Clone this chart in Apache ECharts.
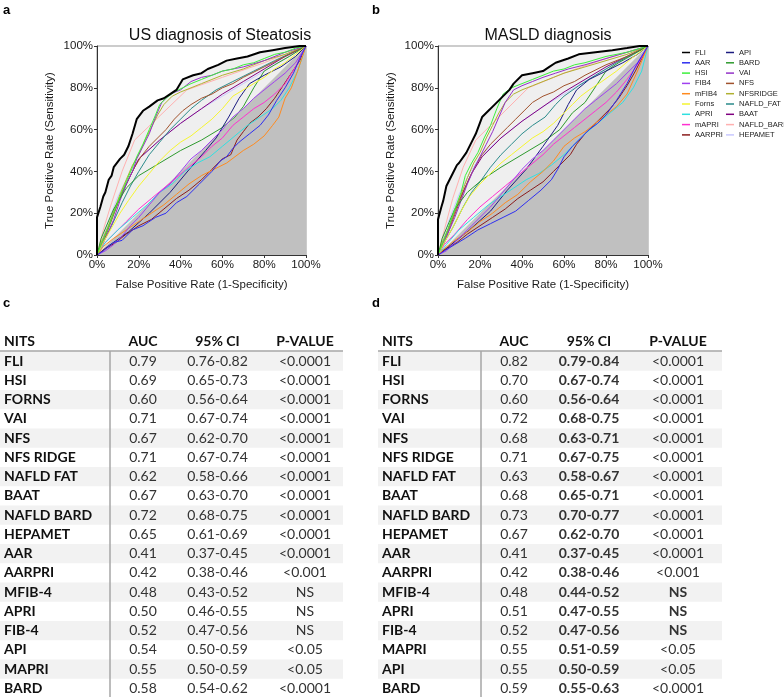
<!DOCTYPE html>
<html>
<head>
<meta charset="utf-8">
<script src="https://cdn.jsdelivr.net/npm/echarts@6/dist/echarts.min.js"></script>
<style>
  html, body { margin: 0; padding: 0; background: #fff; }
  #main { width: 784px; height: 697px; }
</style>
</head>
<body>
<div id="main"></div>
<script>
// ---- ROC curves, panel a (US diagnosis of Steatosis), [FPR %, TPR %]
const fliA = [[0,0],[0,18],[1.6,23],[3,28],[4,30],[5.6,36],[7,38],[8,42],[11,46],[13,48],[15,52],[17,58],[19,65],[22,69],[25,71],[29,74],[32,75],[35,77],[38,79],[41,84],[46,86],[50,87],[53,89],[58,91],[62,93],[67,94],[72,95],[78,97],[84,98],[90,99],[97,100],[100,100]];
const aarA = [[0,0],[3,2],[8,6],[12,7],[17,12],[22,14],[28,18],[33,20],[38,25],[43,28],[49,34],[55,40],[59,45],[62,47],[65,51],[68,54],[73,58],[78,62],[82,67],[86,74],[90,80],[94,87],[97,94],[100,100]];
const hsiA = [[0,0],[2,5],[5,12],[8,20],[11,28],[14,35],[17,42],[19,47],[22,53],[25,60],[28,67],[30,72],[33,75],[37,78],[41,80],[45,82],[50,84],[55,86],[60,88],[65,89],[70,91],[75,92],[80,94],[85,96],[90,97],[95,99],[100,100]];
const fib4A = [[0,0],[4,2],[8,5],[12,9],[16,14],[20,18],[25,24],[30,30],[35,34],[40,40],[45,46],[50,50],[55,55],[60,60],[65,66],[70,70],[75,75],[80,79],[85,83],[90,87],[95,92],[100,100]];
const mfib4A = [[0,0],[3,4],[8,8],[14,12],[20,16],[26,20],[32,24],[38,29],[44,34],[50,38],[56,41],[62,44],[66,47],[70,50],[75,53],[80,57],[84,62],[87,66],[90,75],[93,80],[96,88],[100,100]];
const fornsA = [[0,0],[3,6],[7,13],[11,20],[15,26],[20,33],[25,39],[30,45],[35,50],[40,54],[45,57],[50,61],[55,65],[60,70],[65,76],[70,79],[75,82],[80,85],[85,89],[90,92],[95,96],[100,100]];
const apriA = [[0,0],[4,6],[10,12],[17,18],[24,24],[30,30],[36,34],[42,40],[48,44],[54,47],[60,52],[66,57],[72,62],[78,66],[84,70],[88,74],[92,80],[96,88],[100,100]];
const mapriA = [[0,0],[3,5],[8,10],[14,16],[20,22],[26,27],[32,32],[38,37],[44,42],[50,47],[55,52],[60,56],[65,62],[70,66],[75,70],[80,73],[85,77],[90,82],[95,90],[100,100]];
const aarpriA = [[0,0],[4,3],[9,6],[14,10],[20,14],[26,17],[32,22],[38,27],[44,31],[50,36],[55,41],[60,46],[64,48],[67,55],[70,59],[73,63],[77,66],[81,70],[85,75],[89,81],[93,87],[97,93],[100,100]];
const apiA = [[0,0],[5,4],[15,11],[25,20],[35,30],[45,42],[52,50],[57,56],[63,66],[68,75],[73,82],[80,86],[88,90],[95,95],[100,100]];
const bardA = [[0,0],[2,8],[8,22],[14,32],[20,38],[30,44],[40,50],[50,55],[60,61],[66,66],[70,71],[75,80],[80,88],[85,91],[92,95],[100,100]];
const vaiA = [[0,0],[2,4],[5,10],[8,17],[11,26],[14,34],[17,40],[19,46],[22,52],[25,58],[28,66],[31,73],[35,77],[40,79],[45,83],[50,85],[55,86],[60,88],[70,90],[80,93],[90,97],[100,100]];
const nfsA = [[0,0],[3,6],[6,14],[9,22],[12,30],[15,36],[18,42],[21,47],[25,52],[29,56],[33,60],[37,65],[41,69],[45,72],[50,75],[55,77],[60,80],[65,82],[70,85],[80,90],[90,95],[100,100]];
const nfsRidgeA = [[0,0],[2,6],[5,13],[8,21],[11,29],[14,36],[17,43],[20,48],[23,55],[26,61],[29,67],[32,72],[36,76],[40,78],[45,80],[50,82],[55,84],[60,86],[70,89],[80,93],[90,96],[100,100]];
const nafldFatA = [[0,0],[3,6],[7,14],[12,25],[16,33],[20,40],[25,48],[30,54],[35,60],[40,65],[45,70],[50,74],[57,79],[65,83],[75,88],[85,93],[100,100]];
const baatA = [[0,0],[4,10],[10,25],[16,38],[20,46],[30,55],[40,63],[50,70],[60,77],[70,83],[80,89],[90,95],[100,100]];
const nafldBardA = [[0,0],[3,12],[7,25],[12,40],[18,55],[43,79],[60,85],[80,92],[100,100]];
const hepametA = [[0,0],[5,15],[10,28],[15,38],[20,46],[30,55],[40,63],[50,70],[60,76],[70,82],[80,88],[90,94],[100,100]];

// ---- ROC curves, panel b (MASLD diagnosis)
const fliB = [[0,0],[0,17],[1.6,23],[2.5,26],[4,33],[5.5,36],[7,39],[9,43],[10,44],[13.5,49],[16,54],[18,58],[21,66],[24,69],[26,71],[29,74],[31,76],[34,79],[36,82],[40,86],[45,87],[50,88],[53,90],[56,92],[62,94],[67,96],[75,97],[83,98],[90,99],[96,100],[100,100]];
const aarB = [[0,0],[3,2],[8,5],[13,8],[19,12],[25,15],[31,18],[37,21],[43,26],[49,31],[54,36],[57,41],[60,47],[64,52],[68,56],[72,60],[76,63],[80,67],[85,74],[90,82],[94,90],[97,95],[100,100]];
const hsiB = [[0,0],[2,5],[5,13],[8,22],[11,30],[13,38],[16,44],[19,49],[22,56],[25,62],[28,70],[31,77],[35,80],[40,82],[45,84],[50,86],[55,88],[60,89],[65,91],[70,92],[80,95],[90,97],[100,100]];
const fib4B = [[0,0],[4,2],[8,6],[12,10],[16,14],[20,18],[25,23],[30,29],[35,35],[40,41],[45,46],[50,50],[55,55],[60,60],[65,65],[70,70],[75,74],[80,78],[85,82],[90,87],[95,92],[100,100]];
const mfib4B = [[0,0],[3,3],[8,7],[14,11],[20,16],[26,20],[32,25],[38,29],[44,35],[50,40],[55,45],[60,52],[65,56],[70,59],[75,63],[80,67],[85,71],[90,77],[95,88],[100,100]];
const fornsB = [[0,0],[3,6],[7,13],[11,21],[15,28],[20,34],[25,39],[30,44],[35,48],[40,52],[45,56],[50,59],[55,63],[60,68],[64,72],[68,76],[72,79],[78,83],[85,88],[92,94],[100,100]];
const apriB = [[0,0],[4,5],[10,12],[17,18],[24,24],[30,28],[36,32],[42,36],[48,39],[54,43],[60,48],[64,52],[70,58],[76,63],[82,68],[88,73],[93,80],[97,88],[100,100]];
const mapriB = [[0,0],[3,5],[8,10],[14,17],[20,23],[26,28],[32,33],[38,38],[44,43],[50,48],[55,53],[60,57],[65,61],[70,65],[75,69],[80,73],[85,78],[90,84],[95,91],[100,100]];
const aarpriB = [[0,0],[4,3],[9,6],[14,10],[20,14],[26,18],[32,22],[38,27],[44,31],[50,35],[55,40],[60,45],[63,48],[66,53],[70,58],[74,62],[78,66],[82,70],[86,75],[90,81],[94,88],[97,94],[100,100]];
const apiB = [[0,0],[5,4],[15,12],[25,21],[33,31],[42,41],[50,52],[57,62],[62,72],[66,79],[72,84],[80,88],[88,92],[95,96],[100,100]];
const bardB = [[0,0],[2,8],[8,22],[14,30],[21,36],[30,42],[40,48],[50,54],[58,60],[64,68],[70,73],[76,82],[80,88],[86,92],[93,96],[100,100]];
const vaiB = [[0,0],[2,4],[5,11],[8,18],[11,26],[14,34],[17,41],[20,47],[23,53],[26,59],[29,66],[32,73],[36,79],[40,81],[45,83],[50,85],[56,87],[62,89],[70,91],[80,94],[90,97],[100,100]];
const nfsB = [[0,0],[3,6],[6,14],[9,22],[12,30],[15,37],[18,43],[21,48],[25,53],[29,57],[33,61],[37,65],[41,69],[45,73],[50,76],[55,78],[60,81],[65,83],[70,86],[80,91],[90,95],[100,100]];
const nfsRidgeB = [[0,0],[2,6],[5,13],[8,21],[11,29],[14,37],[17,44],[20,49],[23,56],[26,62],[29,68],[32,73],[36,77],[40,79],[45,81],[50,83],[55,85],[60,87],[70,90],[80,93],[90,96],[100,100]];
const nafldFatB = [[0,0],[3,6],[7,13],[12,23],[16,30],[20,35],[25,42],[30,48],[35,53],[40,58],[45,62],[51,66],[56,72],[60,76],[67,81],[75,86],[85,92],[100,100]];
const baatB = [[0,0],[4,10],[10,26],[16,39],[21,47],[30,56],[40,64],[50,71],[60,78],[70,84],[80,90],[90,95],[100,100]];
const nafldBardB = [[0,0],[3,12],[7,27],[12,42],[18,55],[43,80],[60,87],[80,94],[100,100]];
const hepametB = [[0,0],[5,16],[10,29],[15,39],[20,47],[30,56],[40,64],[50,71],[60,77],[70,83],[80,89],[90,94],[100,100]];

// ---- legend / series meta
const curveNames = ['FLI','AAR','HSI','FIB4','mFIB4','Forns','APRI','mAPRI','AARPRI','API','BARD','VAI','NFS','NFSRIDGE','NAFLD_FAT','BAAT','NAFLD_BARD','HEPAMET'];
const curveColors = ['#000000','#2e2ef0','#3cf03c','#a040f0','#ff8a1e','#f5f530','#30e0e0','#ff30d0','#8b1c1c','#1c1c80','#2e9a2e','#9432c8','#a0522d','#b0b030','#2a8a8a','#800080','#ffb0b0','#c8c8ff'];
const curvesA = [fliA,aarA,hsiA,fib4A,mfib4A,fornsA,apriA,mapriA,aarpriA,apiA,bardA,vaiA,nfsA,nfsRidgeA,nafldFatA,baatA,nafldBardA,hepametA];
const curvesB = [fliB,aarB,hsiB,fib4B,mfib4B,fornsB,apriB,mapriB,aarpriB,apiB,bardB,vaiB,nfsB,nfsRidgeB,nafldFatB,baatB,nafldBardB,hepametB];
const diagonal = [[0,0],[100,100]];

// ---- tables c and d
const tableHeader = ['NITS','AUC','95% CI','P-VALUE'];
const nitsC = ['FLI','HSI','FORNS','VAI','NFS','NFS RIDGE','NAFLD FAT','BAAT','NAFLD BARD','HEPAMET','AAR','AARPRI','MFIB-4','APRI','FIB-4','API','MAPRI','BARD'];
const aucC = ['0.79','0.69','0.60','0.71','0.67','0.71','0.62','0.67','0.72','0.65','0.41','0.42','0.48','0.50','0.52','0.54','0.55','0.58'];
const ciC = ['0.76-0.82','0.65-0.73','0.56-0.64','0.67-0.74','0.62-0.70','0.67-0.74','0.58-0.66','0.63-0.70','0.68-0.75','0.61-0.69','0.37-0.45','0.38-0.46','0.43-0.52','0.46-0.55','0.47-0.56','0.50-0.59','0.50-0.59','0.54-0.62'];
const pC = ['<0.0001','<0.0001','<0.0001','<0.0001','<0.0001','<0.0001','<0.0001','<0.0001','<0.0001','<0.0001','<0.0001','<0.001','NS','NS','NS','<0.05','<0.05','<0.0001'];
const nitsD = ['FLI','HSI','FORNS','VAI','NFS','NFS RIDGE','NAFLD FAT','BAAT','NAFLD BARD','HEPAMET','AAR','AARPRI','MFIB-4','APRI','FIB-4','MAPRI','API','BARD'];
const aucD = ['0.82','0.70','0.60','0.72','0.68','0.71','0.63','0.68','0.73','0.67','0.41','0.42','0.48','0.51','0.52','0.55','0.55','0.59'];
const ciD = ['0.79-0.84','0.67-0.74','0.56-0.64','0.68-0.75','0.63-0.71','0.67-0.75','0.58-0.67','0.65-0.71','0.70-0.77','0.62-0.70','0.37-0.45','0.38-0.46','0.44-0.52','0.47-0.55','0.47-0.56','0.51-0.59','0.50-0.59','0.55-0.63'];
const pD = ['<0.0001','<0.0001','<0.0001','<0.0001','<0.0001','<0.0001','<0.0001','<0.0001','<0.0001','<0.0001','<0.0001','<0.001','NS','NS','NS','<0.05','<0.05','<0.0001'];

const chart = echarts.init(document.getElementById('main'));
const AX_FONT = 'Liberation Sans';

function makeAxes(gridIndex) {
  const common = {
    type: 'value', gridIndex: gridIndex, min: 0, max: 100, interval: 20,
    axisLine: { lineStyle: { color: '#333', width: 1 } },
    axisTick: { show: true, length: 3, lineStyle: { color: '#333' } },
    splitLine: { show: false },
    axisLabel: { formatter: '{value}%', color: '#1a1a1a', fontFamily: AX_FONT, fontSize: 11.5, margin: 4 },
    nameLocation: 'middle',
    nameTextStyle: { color: '#1a1a1a', fontFamily: AX_FONT, fontSize: 11.5 }
  };
  return {
    x: Object.assign({}, common, { name: 'False Positive Rate (1-Specificity)', nameGap: 24 }),
    y: Object.assign({}, common, { name: 'True Positive Rate (Sensitivity)', nameGap: 41 })
  };
}

function buildSeries(curves, idx) {
  let out = [];
  // light fill under FLI, then gray triangle below the chance line
  out.push({ name: 'fli-area', type: 'line', xAxisIndex: idx, yAxisIndex: idx, data: curves[0],
    symbol: 'none', lineStyle: { width: 0 }, areaStyle: { color: '#efefef', opacity: 1 }, z: 1, silent: true });
  out.push({ name: 'chance', type: 'line', xAxisIndex: idx, yAxisIndex: idx, data: diagonal,
    symbol: 'none', lineStyle: { width: 0 }, areaStyle: { color: '#c0c0c0', opacity: 1 }, z: 2, silent: true });
  for (let i = curves.length - 1; i >= 0; i--) {
    out.push({
      name: curveNames[i], type: 'line', xAxisIndex: idx, yAxisIndex: idx, data: curves[i],
      symbol: 'none', color: curveColors[i],
      lineStyle: { width: i === 0 ? 2 : 1, color: curveColors[i] },
      z: i === 0 ? 5 : 3
    });
  }
  return out;
}

// table drawn with graphic elements
function buildTable(cfg, names, auc, ci, p) {
  const els = [];
  const headY = 341.5, row0 = 361, pitch = 19.25;
  const cols = [cfg.nitsX, cfg.aucX, cfg.ciX, cfg.pX];
  names.forEach((n, i) => {
    if (i % 2 === 0) {
      els.push({ type: 'rect', shape: { x: cfg.left, y: row0 + i * pitch - pitch / 2, width: cfg.right - cfg.left, height: pitch },
        style: { fill: '#f2f2f2' }, z: 0 });
    }
  });
  els.push({ type: 'line', shape: { x1: cfg.left, y1: 351, x2: cfg.right, y2: 351 }, style: { stroke: '#a6a6a6', lineWidth: 1.5 }, z: 1 });
  els.push({ type: 'line', shape: { x1: cfg.vline, y1: 351, x2: cfg.vline, y2: 697 }, style: { stroke: '#a6a6a6', lineWidth: 1.5 }, z: 1 });
  tableHeader.forEach((h, j) => {
    els.push({ type: 'text', x: cols[j], y: headY, z: 2,
      style: { text: h, font: 'bold 14px Lato', fill: '#111', align: j === 0 ? 'left' : 'center', verticalAlign: 'middle' } });
  });
  names.forEach((n, i) => {
    const y = row0 + i * pitch;
    const vals = [n, auc[i], ci[i], p[i]];
    vals.forEach((v, j) => {
      let font = '14px Lato', fill = '#333';
      if (j === 0) { font = 'bold 14px Lato'; fill = '#111'; }
      if (cfg.boldCi && j === 2) { font = 'bold 14px Lato'; fill = '#333'; }
      if (cfg.boldNs && j === 3 && v === 'NS') { font = 'bold 14px Lato'; }
      els.push({ type: 'text', x: cols[j], y: y, z: 2,
        style: { text: v, font: font, fill: fill, align: j === 0 ? 'left' : 'center', verticalAlign: 'middle' } });
    });
  });
  return els;
}

const axA = makeAxes(0), axB = makeAxes(1);
const panelLetter = (t, x, y) => ({ type: 'text', x: x, y: y,
  style: { text: t, font: 'bold 13px "Liberation Sans"', fill: '#000' } });

const graphics = []
  .concat([panelLetter('a', 3, 4), panelLetter('b', 372, 4), panelLetter('c', 3, 297), panelLetter('d', 372, 297)])
  .concat(buildTable({ left: 0, right: 343, nitsX: 4, aucX: 143, ciX: 217.5, pX: 305, vline: 110 }, nitsC, aucC, ciC, pC))
  .concat(buildTable({ left: 378, right: 722, nitsX: 382, aucX: 514, ciX: 589, pX: 678, vline: 481, boldCi: true, boldNs: true }, nitsD, aucD, ciD, pD));

const legendText = { fontFamily: AX_FONT, fontSize: 7.5, color: '#222', lineHeight: 9 };

const option = {
  animation: false,
  backgroundColor: '#fff',
  title: [
    { text: 'US diagnosis of Steatosis', left: 215, top: 23, textAlign: 'center',
      textStyle: { fontFamily: AX_FONT, fontWeight: 'normal', fontSize: 16, color: '#111' } },
    { text: 'MASLD diagnosis', left: 543, top: 23, textAlign: 'center',
      textStyle: { fontFamily: AX_FONT, fontWeight: 'normal', fontSize: 16, color: '#111' } }
  ],
  legend: [
    { data: curveNames.slice(0, 9), orient: 'vertical', left: 677, top: 43, icon: 'rect',
      itemWidth: 8, itemHeight: 1.5, itemGap: 1.3, textStyle: legendText, selectedMode: false },
    { data: curveNames.slice(9), orient: 'vertical', left: 721, top: 43, icon: 'rect',
      itemWidth: 8, itemHeight: 1.5, itemGap: 1.3, textStyle: legendText, selectedMode: false }
  ],
  grid: [
    { left: 97, top: 46, width: 209, height: 209, show: true, borderColor: '#999', borderWidth: 1, backgroundColor: '#fff' },
    { left: 438, top: 46, width: 210, height: 209, show: true, borderColor: '#999', borderWidth: 1, backgroundColor: '#fff' }
  ],
  xAxis: [axA.x, axB.x],
  yAxis: [axA.y, axB.y],
  series: buildSeries(curvesA, 0).concat(buildSeries(curvesB, 1)),
  graphic: graphics
};

chart.setOption(option);
window.addEventListener('resize', () => chart.resize());
</script>
</body>
</html>
